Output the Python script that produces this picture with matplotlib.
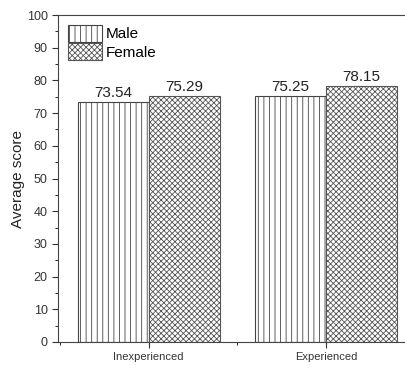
import numpy as np
import matplotlib.pyplot as plt
from matplotlib.ticker import MultipleLocator

plt.rcParams['font.family'] = ['Liberation Sans', 'DejaVu Sans']
plt.rcParams['hatch.linewidth'] = 0.6

groups = ['Inexperienced', 'Experienced']
male = [73.54, 75.25]
female = [75.29, 78.15]

x = np.array([1, 2])
w = 0.4

fig = plt.figure(figsize=(4.06, 3.68), dpi=100)
ax = fig.add_axes([58 / 406, 26 / 368, 1 - 58 / 406, 327 / 368])

b1 = ax.bar(x - w / 2, male, w, color='white', edgecolor='#444444',
            hatch='|||', linewidth=0.8, label='Male')
b2 = ax.bar(x + w / 2, female, w, color='white', edgecolor='#555555',
            hatch='xxxxxx', linewidth=0.8, label='Female')

for bars in (b1, b2):
    for r in bars:
        ax.text(r.get_x() + r.get_width() / 2, r.get_height() + 0.6,
                f'{r.get_height():.2f}', ha='center', va='bottom',
                fontsize=11, color='#222222')

ax.set_xlim(0.489, 2.45)
ax.set_ylim(0, 100)
ax.set_xticks(x)
ax.set_xticklabels(groups, fontsize=8)
ax.xaxis.set_minor_locator(MultipleLocator(0.5))
ax.yaxis.set_major_locator(MultipleLocator(10))
ax.yaxis.set_minor_locator(MultipleLocator(5))
ax.tick_params(axis='y', labelsize=9, colors='#333333', length=4)
ax.tick_params(axis='y', which='minor', length=2)
ax.tick_params(axis='x', which='major', length=4, colors='#333333')
ax.tick_params(axis='x', which='minor', length=2)
ax.set_ylabel('Average score', fontsize=11, color='#222222', labelpad=1)
ax.spines['right'].set_visible(False)
for s in ('left', 'top', 'bottom'):
    ax.spines[s].set_color('#444444')

ax.legend(loc='upper left', frameon=False, fontsize=11, handlelength=2.2,
          handleheight=1.3, borderaxespad=0.35, handletextpad=0.25,
          labelspacing=0.1, borderpad=0.3)

fig.savefig('out.png', dpi=100)
